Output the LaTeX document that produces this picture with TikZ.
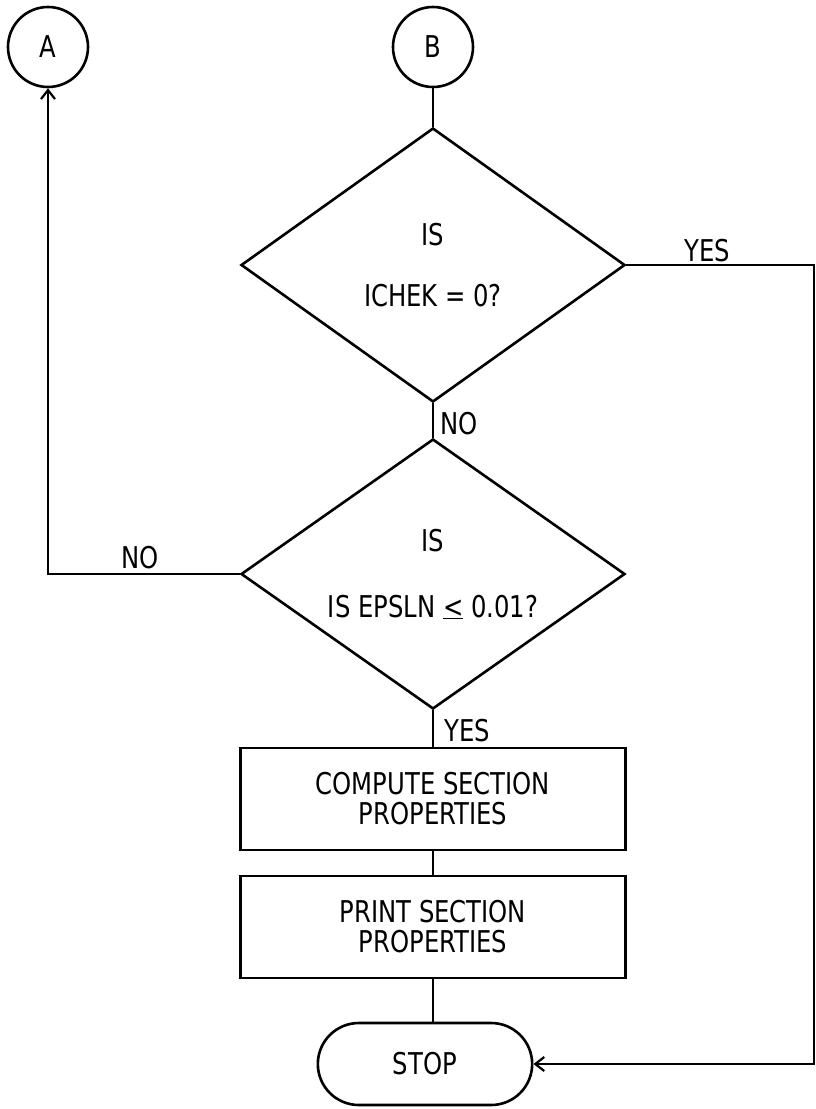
\documentclass[tikz,border=0pt]{standalone}
\usepackage{fontspec}
\setmainfont[FakeStretch=0.9]{DejaVu Sans Condensed}
\usetikzlibrary{shapes.geometric,shapes.misc,arrows.meta,positioning,calc}
\tikzset{
  conn/.style={circle,draw,line width=2.6pt,minimum size=80pt,inner sep=0pt},
  dec/.style={diamond,aspect=1.4,draw,line width=2.6pt,minimum width=384pt,minimum height=274pt,
              inner sep=0pt,align=center},
  box/.style={rectangle,draw,line width=2.6pt,minimum width=385pt,minimum height=102pt,
              align=center},
  term/.style={rounded rectangle,draw,line width=2.6pt,minimum width=221pt,minimum height=82pt},
  fl/.style={line width=2.6pt},
  fla/.style={fl,-{Straight Barb[length=9pt,width=14pt,line width=2.2pt]}},
  lbl/.style={inner sep=2pt},
}
\begin{document}
\begin{tikzpicture}[x=1pt,y=-1pt,font=\fontsize{30}{30}\selectfont]
  \useasboundingbox (0,0) rectangle (816,1109);
  \node[conn] (A) at (48,47) {A};
  \node[conn] (B) at (433,47) {B};
  \node[dec] (chek) at (433,265) {IS\\[31pt]ICHEK = 0?};
  \node[dec,minimum height=270pt] (eps) at (433,574) {IS\\[36pt]IS EPSLN \underline{<} 0.01?};
  \node[box] (comp) at (433,799) {COMPUTE SECTION\\PROPERTIES};
  \node[box] (prnt) at (433,927) {PRINT SECTION\\PROPERTIES};
  \node[term] (stop) at (425,1064) {STOP};
  \coordinate (rgt) at (814,265);
  % main line down the middle
  \draw[fl] (B) -- (chek);
  \draw[fl] (chek.south) -- node[lbl,right,pos=.6,xshift=4pt]{NO} (eps.north);
  \draw[fl] (eps.south) -- node[lbl,right,pos=.55,xshift=8pt]{YES} (comp.north);
  \draw[fl] (comp) -- (prnt);
  \draw[fl] (prnt.south) -- (prnt.south |- stop.north);
  % branches
  \draw[fla] (eps.west) -- node[lbl,above,pos=.52,yshift=2pt]{NO} (eps.west -| A.south) -- (A.south);
  \draw[fla] (chek.east) -- node[lbl,above,pos=.43]{YES} (rgt) |- (stop.east);
\end{tikzpicture}
\end{document}
